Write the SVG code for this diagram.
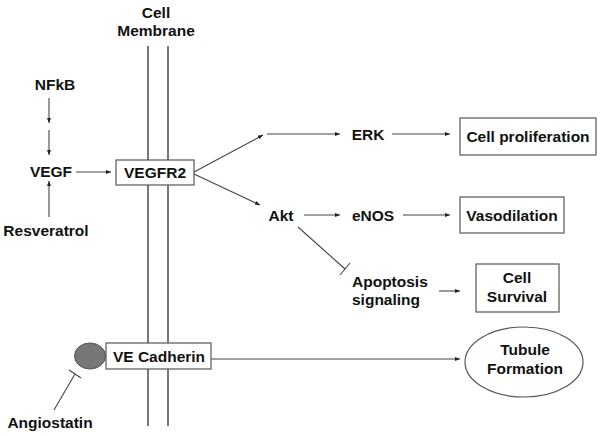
<svg xmlns="http://www.w3.org/2000/svg" width="600" height="436" viewBox="0 0 600 436">
<defs>
<marker id="arr" viewBox="0 0 10 10" refX="10" refY="5" markerWidth="5" markerHeight="5" orient="auto" markerUnits="userSpaceOnUse"><path d="M0,1 L10,5 L0,9 z" fill="#222"/></marker>
</defs>
<style>
text{font-family:"Liberation Sans",Arial,sans-serif;font-weight:bold;font-size:15.5px;fill:#111}
.c{text-anchor:middle}
.ln{stroke:#444;stroke-width:1.1;fill:none}
.a{marker-end:url(#arr)}
.box{fill:#fff;stroke:#555;stroke-width:1.2}
.mem{stroke:#777;stroke-width:2;fill:none}
</style>
<rect width="600" height="436" fill="#fff"/>
<g id="membrane">
<line class="mem" x1="148" y1="46" x2="148" y2="426"/>
<line class="mem" x1="168" y1="46" x2="168" y2="426"/>
<text class="c" x="156" y="18">Cell</text>
<text class="c" x="156" y="36">Membrane</text>
</g>
<g id="connectors">
<line class="ln a" x1="49" y1="98" x2="49" y2="123"/>
<line class="ln a" x1="49" y1="130" x2="49" y2="155"/>
<line class="ln a" x1="49" y1="217" x2="49" y2="181"/>
<line class="ln a" x1="76" y1="172" x2="111" y2="172"/>
<line class="ln a" x1="194" y1="172" x2="263" y2="135"/>
<line class="ln a" x1="194" y1="174" x2="260" y2="205"/>
<line class="ln a" x1="267" y1="134" x2="340" y2="134"/>
<line class="ln a" x1="392" y1="134" x2="450" y2="134"/>
<line class="ln a" x1="304" y1="215" x2="340" y2="215"/>
<line class="ln a" x1="403" y1="215" x2="450" y2="215"/>
<line class="ln" x1="298" y1="227" x2="345" y2="269"/>
<line class="ln" x1="340" y1="275" x2="350" y2="263"/>
<line class="ln a" x1="439" y1="291" x2="460" y2="291"/>
<line class="ln a" x1="211" y1="359" x2="460" y2="359"/>
<line class="ln" x1="54" y1="410" x2="75" y2="374"/>
<line class="ln" x1="69" y1="370" x2="81" y2="378"/>
</g>
<g id="NFkB"><text class="c" x="55" y="90">NFkB</text></g>
<g id="VEGF"><text class="c" x="51" y="177">VEGF</text></g>
<g id="Resveratrol"><text class="c" x="46" y="236">Resveratrol</text></g>
<g id="VEGFR2"><rect class="box" x="116" y="160" width="78" height="25"/><text class="c" x="155" y="178">VEGFR2</text></g>
<g id="ERK"><text class="c" x="368" y="140">ERK</text></g>
<g id="CellProliferation"><rect class="box" x="460" y="118" width="136" height="37"/><text class="c" x="528" y="142">Cell proliferation</text></g>
<g id="Akt"><text class="c" x="281" y="221">Akt</text></g>
<g id="eNOS"><text class="c" x="373" y="221">eNOS</text></g>
<g id="Vasodilation"><rect class="box" x="460" y="197" width="104" height="36"/><text class="c" x="512" y="221">Vasodilation</text></g>
<g id="Apoptosis"><text x="352" y="287">Apoptosis</text><text x="352" y="305">signaling</text></g>
<g id="CellSurvival"><rect class="box" x="476" y="264" width="83" height="48"/><text class="c" x="517" y="283">Cell</text><text class="c" x="517" y="302">Survival</text></g>
<g id="Receptor"><ellipse cx="90" cy="356" rx="15.5" ry="13" fill="#777" stroke="#555" stroke-width="1"/></g>
<g id="VECadherin"><rect class="box" x="106" y="343" width="105" height="26"/><text class="c" x="159" y="362">VE Cadherin</text></g>
<g id="TubuleFormation"><ellipse cx="524" cy="362" rx="59" ry="35" fill="#fff" stroke="#555" stroke-width="1.2"/><text class="c" x="525" y="355">Tubule</text><text class="c" x="525" y="374">Formation</text></g>
<g id="Angiostatin"><text class="c" x="50" y="428">Angiostatin</text></g>
</svg>
